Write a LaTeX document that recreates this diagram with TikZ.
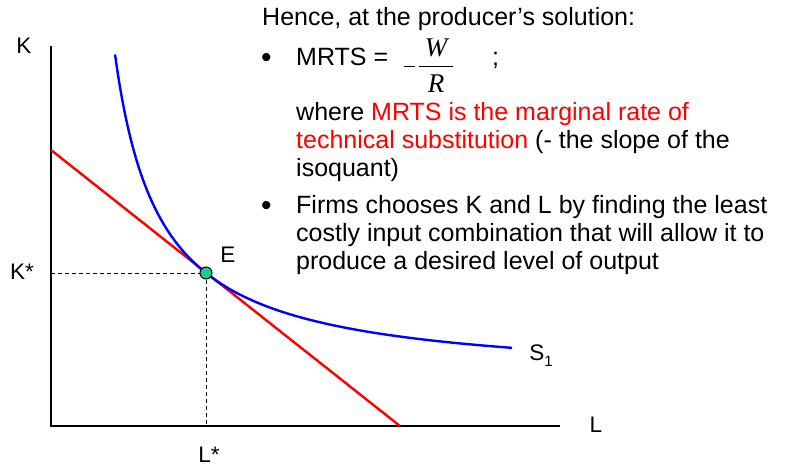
\documentclass[tikz,border=0pt]{standalone}
\usepackage{fontspec}
\setmainfont{Liberation Sans}
\newfontfamily\mathserif{Liberation Serif}
\usetikzlibrary{positioning,calc}
\definecolor{eqgreen}{RGB}{30,205,140}
\tikzset{
    axisline/.style={line width=2pt, black},
    budgetline/.style={line width=2.4pt, red},
    isoquant/.style={line width=2.4pt, blue},
    guideline/.style={dashed, dash pattern=on 4pt off 3pt, line width=1pt},
    axislabel/.style={font=\fontsize{22.5}{26}\selectfont, inner sep=0pt},
    notetext/.style={font=\fontsize{25}{28}\selectfont, anchor=base west, inner sep=0pt},
    bulletmark/.style={font=\fontsize{30}{30}\selectfont, anchor=base west, inner sep=0pt},
    mathletter/.style={font=\fontsize{27}{28}\selectfont\mathserif\itshape, inner sep=0pt}
}

\begin{document}
\begin{tikzpicture}[x=1pt, y=-1pt]
\useasboundingbox (0,0) rectangle (785,466);
% axes
\coordinate (origin) at (51,426);
\coordinate (ktop) at (51,46);
\coordinate (lend) at (560,426);
\draw[axisline] (ktop) -- (origin) -- (lend);
\node[axislabel] (klabel) at (24,46) {K};
\node[axislabel] (llabel) at (596,425) {L};
% isocost line and isoquant
\coordinate (redtop) at (51,150);
\coordinate (redend) at (400,426);
\draw[budgetline] (redtop) -- (redend);
\draw[isoquant] plot[domain=115:512, samples=120, smooth] (\x, {381.1 - 14700/(\x-70)});
\node[axislabel] (slabel) at (541,356) {S\raisebox{-6pt}{\fontsize{15}{15}\selectfont 1}};
% equilibrium point
\node[circle, draw=black, fill=eqgreen, line width=1pt, minimum size=12pt, inner sep=0pt] (E) at (206,273) {};
\coordinate (kstar) at (51,273);
\coordinate (lstar) at (206,426);
\draw[guideline] (kstar) -- (E.west);
\draw[guideline] (E.south) -- (lstar);
\node[axislabel] (elabel) at (228,255) {E};
\node[axislabel] (kstarlabel) at (22,272) {K*};
\node[axislabel] (lstarlabel) at (209,455) {L*};
% explanation text
\node[notetext] (hence) at (262,25) {Hence, at the producer’s solution:};
\node[bulletmark] (bulleta) at (261,67) {•};
\node[notetext] (mrts) at (296,65) {MRTS =};
\draw[line width=0.8pt] (404,66) -- (415,66);
\draw[line width=0.8pt] (419,66) -- (453,66);
\node[mathletter] (wnum) at (436,48) {W};
\node[mathletter] (rden) at (436,84) {R};
\node[notetext] (semi) at (492,65) {;};
\node[notetext] (wherea) at (296,120) {where \textcolor{red}{MRTS is the marginal rate of}};
\node[notetext] (whereb) at (296,148) {\textcolor{red}{technical substitution} (- the slope of the};
\node[notetext] (wherec) at (296,176) {isoquant)};
\node[bulletmark] (bulletb) at (261,215) {•};
\node[notetext] (firmsa) at (296,213) {Firms chooses K and L by finding the least};
\node[notetext] (firmsb) at (296,241) {costly input combination that will allow it to};
\node[notetext] (firmsc) at (296,269) {produce a desired level of output};
\end{tikzpicture}
\end{document}
